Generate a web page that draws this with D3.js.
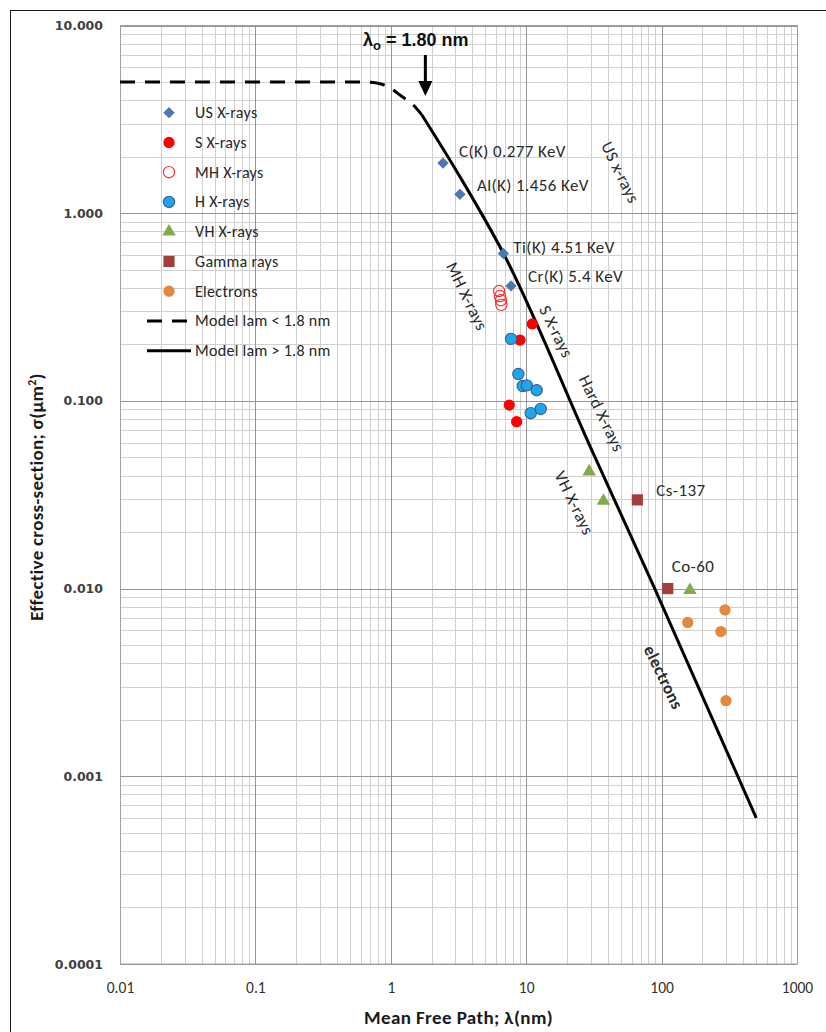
<!DOCTYPE html>
<html>
<head>
<meta charset="utf-8">
<script src="https://cdn.jsdelivr.net/npm/d3@7"></script>
<style>
  html, body { margin: 0; padding: 0; background: #fff; }
  svg { display: block; }
</style>
</head>
<body>
<svg id="chart" width="826" height="1032"></svg>
<script>
// Axis ticks
const xTickValues = [0.01, 0.1, 1, 10, 100, 1000];
const xTickLabels = ["0.01", "0.1", "1", "10", "100", "1000"];
const yTickValues = [10, 1, 0.1, 0.01, 0.001, 0.0001];
const yTickLabels = ["10.000", "1.000", "0.100", "0.010", "0.001", "0.0001"];

// Measured points: [mean free path (nm), effective cross-section (µm²)]
const usXrays = [[2.43, 1.85], [3.24, 1.26], [6.78, 0.61], [7.72, 0.41]];
const usXrayLabels = ["C(K) 0.277 KeV", "Al(K) 1.456 KeV", "Ti(K) 4.51 KeV", "Cr(K) 5.4 KeV"];
const sXrays = [[11.1, 0.257], [9.0, 0.211], [7.5, 0.095], [8.5, 0.0775]];
const mhXrays = [[6.3, 0.385], [6.4, 0.362], [6.5, 0.344], [6.55, 0.325]];
const hXrays = [[7.73, 0.214], [8.75, 0.139], [9.42, 0.12], [10.1, 0.121], [11.95, 0.114], [10.8, 0.086], [12.8, 0.0906]];
const vhXrays = [[29.2, 0.042], [37.2, 0.0293], [162, 0.0098]];
const gammaRays = [[66.2, 0.0297], [111, 0.01]];
const gammaLabels = ["Cs-137", "Co-60"];
const electrons = [[294, 0.0077], [156, 0.0066], [274, 0.0059], [299, 0.00253]];

// Model curve, below and above the characteristic length
const modelBelow = [[0.01, 5], [0.6, 5], [0.8, 4.93], [1.0, 4.62], [1.2, 4.2], [1.45, 3.8], [1.7, 3.33]];
const modelAbove = [[1.7, 3.33], [3.24, 1.565], [6.8, 0.61], [30.5, 0.0547], [89, 0.01], [500, 0.0006]];
const lambda0 = 1.80;

// Band names written along the model line
const bandNames = ["US x-rays", "MH X-rays", "S X-rays", "Hard X-rays", "VH X-rays", "electrons"];

// ---------------------------------------------------------------------------
const svg = d3.select("#chart");
const W = 826, H = 1032;
const plot = { left: 120, right: 797, top: 25.5, bottom: 964 };

const x = d3.scaleLog().domain([0.01, 1000]).range([plot.left, plot.right]);
const y = d3.scaleLog().domain([0.0001, 10]).range([plot.bottom, plot.top]);

const calibri = "Carlito, Lato, 'Open Sans', sans-serif";

// outer chart frame
svg.append("rect")
  .attr("x", 10.5).attr("y", 10.5).attr("width", W + 20).attr("height", H + 20)
  .attr("fill", "#fff").attr("stroke", "#1a1a1a").attr("stroke-width", 1);

const isMajor = v => Math.abs(Math.log10(v) - Math.round(Math.log10(v))) < 1e-9;

// grid
const grid = svg.append("g").attr("shape-rendering", "crispEdges");
const xGrid = x.ticks();
const yGrid = y.ticks();
grid.selectAll("line.vx").data(xGrid.filter(v => !isMajor(v))).join("line")
  .attr("x1", d => Math.round(x(d)) + 0.5).attr("x2", d => Math.round(x(d)) + 0.5)
  .attr("y1", plot.top).attr("y2", plot.bottom)
  .attr("stroke", "#d0d0d0").attr("stroke-width", 1);
grid.selectAll("line.hy").data(yGrid.filter(v => !isMajor(v))).join("line")
  .attr("y1", d => Math.round(y(d)) + 0.5).attr("y2", d => Math.round(y(d)) + 0.5)
  .attr("x1", plot.left).attr("x2", plot.right)
  .attr("stroke", "#d0d0d0").attr("stroke-width", 1);
grid.selectAll("line.vxm").data(xGrid.filter(isMajor)).join("line")
  .attr("x1", d => Math.round(x(d)) + 0.5).attr("x2", d => Math.round(x(d)) + 0.5)
  .attr("y1", plot.top).attr("y2", plot.bottom)
  .attr("stroke", "#969696").attr("stroke-width", 1);
grid.selectAll("line.hym").data(yGrid.filter(isMajor)).join("line")
  .attr("y1", d => Math.round(y(d)) + 0.5).attr("y2", d => Math.round(y(d)) + 0.5)
  .attr("x1", plot.left).attr("x2", plot.right)
  .attr("stroke", "#969696").attr("stroke-width", 1);

// plot border
svg.append("rect")
  .attr("x", plot.left + 0.5).attr("y", plot.top)
  .attr("width", plot.right - plot.left).attr("height", plot.bottom - plot.top)
  .attr("fill", "none").attr("stroke", "#a0a0a0").attr("stroke-width", 1);

// axes
const xAxis = d3.axisBottom(x).tickValues(xTickValues)
  .tickFormat((d, i) => xTickLabels[i]).tickSize(0).tickPadding(18);
const gx = svg.append("g").attr("transform", `translate(0,${plot.bottom})`).call(xAxis);
gx.select(".domain").remove();
gx.selectAll("text").attr("font-family", calibri).attr("font-size", 15.5).attr("fill", "#303030");

const yAxis = d3.axisLeft(y).tickValues(yTickValues)
  .tickFormat((d, i) => yTickLabels[i]).tickSize(0).tickPadding(17);
const gy = svg.append("g").attr("transform", `translate(${plot.left},0)`).call(yAxis);
gy.select(".domain").remove();
gy.selectAll("text").attr("font-family", "'DejaVu Sans', Verdana, sans-serif")
  .attr("font-size", 12.5).attr("font-weight", "bold").attr("fill", "#404040");

// axis titles
svg.append("text")
  .attr("x", (plot.left + plot.right) / 2).attr("y", 1024)
  .attr("text-anchor", "middle").attr("font-family", calibri)
  .attr("font-size", 19).attr("letter-spacing", 0.4).attr("font-weight", "bold").attr("fill", "#1a1a1a")
  .text("Mean Free Path; λ(nm)");

const yTitle = svg.append("text")
  .attr("transform", "translate(43,497) rotate(-90)")
  .attr("text-anchor", "middle").attr("font-family", calibri)
  .attr("font-size", 19).attr("letter-spacing", 0.3).attr("font-weight", "bold").attr("fill", "#1a1a1a");
yTitle.append("tspan").text("Effective cross-section; σ(μm");
yTitle.append("tspan").attr("baseline-shift", "super").attr("font-size", 12).text("2");
yTitle.append("tspan").text(")");

// model curves
const line = d3.line().x(d => x(d[0])).y(d => y(d[1])).curve(d3.curveMonotoneX);
svg.append("path").datum(modelBelow).attr("d", line)
  .attr("fill", "none").attr("stroke", "#000").attr("stroke-width", 3)
  .attr("stroke-dasharray", "15,10");
svg.append("path").datum(modelAbove).attr("d", line)
  .attr("fill", "none").attr("stroke", "#000").attr("stroke-width", 3);

// marker definitions
const diamond = d3.symbol().type(d3.symbolSquare).size(64)();
const circle = d3.symbol().type(d3.symbolCircle).size(100)();
const triangle = d3.symbol().type(d3.symbolTriangle).size(78)();
const square = d3.symbol().type(d3.symbolSquare).size(125)();

const series = [
  { name: "US X-rays", data: usXrays, path: diamond, rot: 45, fill: "#4a78b4", stroke: "none" },
  { name: "S X-rays", data: sXrays, path: circle, rot: 0, fill: "#ff0000", stroke: "none" },
  { name: "MH X-rays", data: mhXrays, path: circle, rot: 0, fill: "none", stroke: "#ff2a2a" },
  { name: "H X-rays", data: hXrays, path: circle, rot: 0, fill: "#1ea6e8", stroke: "#3a5a9a" },
  { name: "VH X-rays", data: vhXrays, path: triangle, rot: 0, fill: "#83a94a", stroke: "none" },
  { name: "Gamma rays", data: gammaRays, path: square, rot: 0, fill: "#a33e3c", stroke: "none" },
  { name: "Electrons", data: electrons, path: circle, rot: 0, fill: "#e4893c", stroke: "none" }
];

series.forEach(s => {
  svg.append("g").selectAll("path").data(s.data).join("path")
    .attr("d", s.path)
    .attr("transform", d => `translate(${x(d[0])},${y(d[1])}) rotate(${s.rot})`)
    .attr("fill", s.fill).attr("stroke", s.stroke).attr("stroke-width", 1.1);
});

// point labels
const pointLabelStyle = sel => sel.attr("font-family", calibri).attr("font-size", 17)
  .attr("letter-spacing", 0.4).attr("fill", "#2a2a2a").attr("dominant-baseline", "central");
const usOffsets = [[16, -12], [17, -9], [10, -6], [17, -9]];
svg.append("g").selectAll("text").data(usXrays).join("text")
  .attr("x", (d, i) => x(d[0]) + usOffsets[i][0])
  .attr("y", (d, i) => y(d[1]) + usOffsets[i][1])
  .text((d, i) => usXrayLabels[i]).call(pointLabelStyle);
const gammaOffsets = [[19, -9], [4, -22]];
svg.append("g").selectAll("text").data(gammaRays).join("text")
  .attr("x", (d, i) => x(d[0]) + gammaOffsets[i][0])
  .attr("y", (d, i) => y(d[1]) + gammaOffsets[i][1])
  .text((d, i) => gammaLabels[i]).call(pointLabelStyle);

// band names along the curve
const bandPos = [[620, 172.5], [466.7, 296.5], [556, 331.7], [601.5, 413.5], [574, 503], [663.3, 677.5]];
svg.append("g").selectAll("text").data(bandNames).join("text")
  .attr("transform", (d, i) => `translate(${bandPos[i][0]},${bandPos[i][1]}) rotate(64)`)
  .attr("text-anchor", "middle").attr("dominant-baseline", "central")
  .attr("font-family", calibri).attr("font-size", 17).attr("letter-spacing", 0.4)
  .attr("font-weight", (d, i) => d === "electrons" ? "bold" : "normal")
  .attr("fill", "#2a2a2a")
  .text(d => d);

// legend
const legend = svg.append("g");
const legendY = i => 112.7 + i * 29.75;
series.forEach((s, i) => {
  legend.append("path").attr("d", s.path)
    .attr("transform", `translate(169,${legendY(i)}) rotate(${s.rot})`)
    .attr("fill", s.fill).attr("stroke", s.stroke).attr("stroke-width", 1.1);
  legend.append("text").attr("x", 195).attr("y", legendY(i))
    .attr("dominant-baseline", "central").attr("font-family", calibri)
    .attr("font-size", 16).attr("letter-spacing", 0.3).attr("fill", "#262626").text(s.name);
});
const lineEntries = [
  { name: "Model lam < 1.8 nm", dash: "15,10" },
  { name: "Model lam > 1.8 nm", dash: null }
];
lineEntries.forEach((e, j) => {
  const yy = legendY(series.length + j);
  legend.append("line").attr("x1", 147).attr("x2", 191).attr("y1", yy).attr("y2", yy)
    .attr("stroke", "#000").attr("stroke-width", 3)
    .attr("stroke-dasharray", e.dash);
  legend.append("text").attr("x", 195).attr("y", yy)
    .attr("dominant-baseline", "central").attr("font-family", calibri)
    .attr("font-size", 16).attr("letter-spacing", 0.3).attr("fill", "#262626").text(e.name);
});

// characteristic length marker
const ax = x(lambda0);
const title = svg.append("text").attr("x", 363).attr("y", 46)
  .attr("font-family", "'Liberation Sans', Arial, sans-serif")
  .attr("font-size", 18).attr("font-weight", "bold").attr("fill", "#111");
title.append("tspan").text("λ");
title.append("tspan").attr("font-size", 13).attr("dy", 4).text("o");
title.append("tspan").attr("dy", -4).text(" = " + lambda0.toFixed(2) + " nm");

svg.append("line").attr("x1", ax).attr("x2", ax).attr("y1", 55).attr("y2", 82)
  .attr("stroke", "#000").attr("stroke-width", 3);
svg.append("path")
  .attr("d", `M${ax - 7},81 L${ax + 7},81 L${ax},96 Z`)
  .attr("fill", "#000");
</script>
</body>
</html>
